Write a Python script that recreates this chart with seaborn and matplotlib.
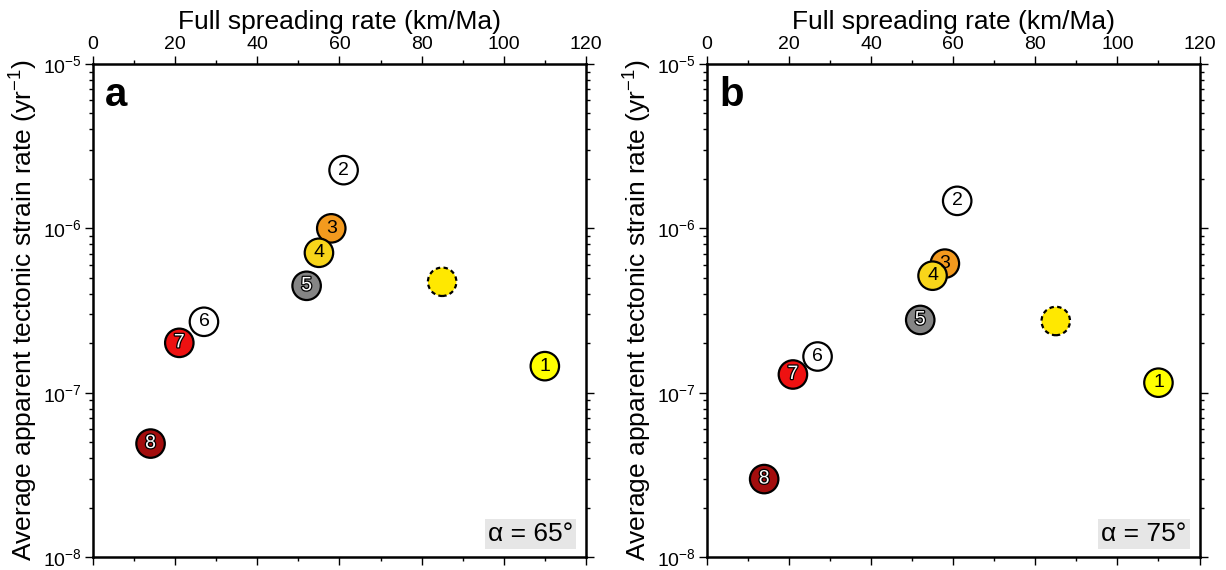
import pandas as pd
import seaborn as sns
import matplotlib.pyplot as plt
import matplotlib.patheffects as pe
from matplotlib.ticker import MultipleLocator, LogLocator, NullFormatter

sites = ['1', '2', '3', '4', '5', '6', '7', '8']
rate = [110, 61, 58, 55, 52, 27, 21, 14]
strain_65 = [1.45e-7, 2.26e-6, 1.0e-6, 7.1e-7, 4.47e-7, 2.7e-7, 2.01e-7, 4.9e-8]
strain_75 = [1.15e-7, 1.47e-6, 6.1e-7, 5.15e-7, 2.77e-7, 1.66e-7, 1.29e-7, 2.98e-8]
colors = ['#ffff00', '#ffffff', '#f39a1e', '#f8d51a', '#858585', '#ffffff', '#ee1111', '#a30d0d']
white_text = ['5', '7', '8']

extra_rate = [85]
extra_65 = [4.73e-7]
extra_75 = [2.73e-7]

panels = [('a', '65', strain_65, extra_65), ('b', '75', strain_75, extra_75)]

sns.set_theme(style='ticks')
plt.rcParams['font.family'] = ['Liberation Sans', 'DejaVu Sans']
plt.rcParams['mathtext.fontset'] = 'custom'
plt.rcParams['mathtext.rm'] = 'Liberation Sans'
plt.rcParams['mathtext.it'] = 'Liberation Sans:italic'
plt.rcParams['mathtext.bf'] = 'Liberation Sans:bold'
for key in ['text.color', 'axes.labelcolor', 'xtick.color', 'ytick.color']:
    plt.rcParams[key] = 'black'

fig = plt.figure(figsize=(12.26, 5.7), dpi=100)
lefts = [0.0759, 0.5764]

for left, (letter, alpha, strain, extra) in zip(lefts, panels):
    ax = fig.add_axes([left, 0.0228, 0.4020, 0.8649])
    df = pd.DataFrame({'site': sites, 'rate': rate, 'strain': strain})
    sns.scatterplot(data=df, x='rate', y='strain', hue='site',
                    palette=dict(zip(sites, colors)), s=420,
                    edgecolor='black', linewidth=1.6, legend=False,
                    ax=ax, zorder=3)
    ex = pd.DataFrame({'rate': extra_rate, 'strain': extra})
    sns.scatterplot(data=ex, x='rate', y='strain', color='#ffe800', s=420,
                    edgecolor='black', linewidth=1.6, linestyle=(0, (2, 1.5)),
                    legend=False, ax=ax, zorder=2)
    for s, xv, yv in zip(sites, rate, strain):
        if s in white_text:
            ax.text(xv, yv, s, ha='center', va='center', fontsize=14,
                    color='white', zorder=5,
                    path_effects=[pe.withStroke(linewidth=1.8, foreground='black')])
        else:
            ax.text(xv, yv, s, ha='center', va='center', fontsize=14,
                    color='black', zorder=5)

    ax.set_yscale('log')
    ax.set_xlim(0, 120)
    ax.set_ylim(1e-8, 1e-5)
    ax.xaxis.set_major_locator(MultipleLocator(20))
    ax.xaxis.set_minor_locator(MultipleLocator(10))
    ax.yaxis.set_major_locator(LogLocator(base=10, numticks=10))
    ax.yaxis.set_minor_locator(LogLocator(base=10, subs=range(2, 10), numticks=10))
    ax.yaxis.set_minor_formatter(NullFormatter())
    ax.tick_params(which='both', direction='out', top=True, right=True,
                   labeltop=True, labelbottom=False, labelsize=14,
                   width=1.0, color='black', labelcolor='black', pad=2)
    ax.tick_params(which='major', length=6)
    ax.tick_params(which='minor', length=3)
    for sp in ax.spines.values():
        sp.set_linewidth(1.8)
        sp.set_color('black')
        sp.set_visible(True)
    ax.xaxis.set_label_position('top')
    ax.set_xlabel('Full spreading rate (km/Ma)', fontsize=19, labelpad=5)
    ax.set_ylabel('Average apparent tectonic strain rate (yr$^{-1}$)', fontsize=19, labelpad=2)
    ax.text(0.025, 0.975, letter, transform=ax.transAxes, ha='left', va='top',
            fontsize=29, fontweight='bold', color='black')
    ax.text(0.974, 0.022, '\u03b1 = ' + alpha + '\u00b0', transform=ax.transAxes,
            ha='right', va='bottom', fontsize=19, color='black',
            bbox=dict(facecolor='#e6e6e6', edgecolor='none', pad=2))

fig.savefig('out.png', dpi=100)
